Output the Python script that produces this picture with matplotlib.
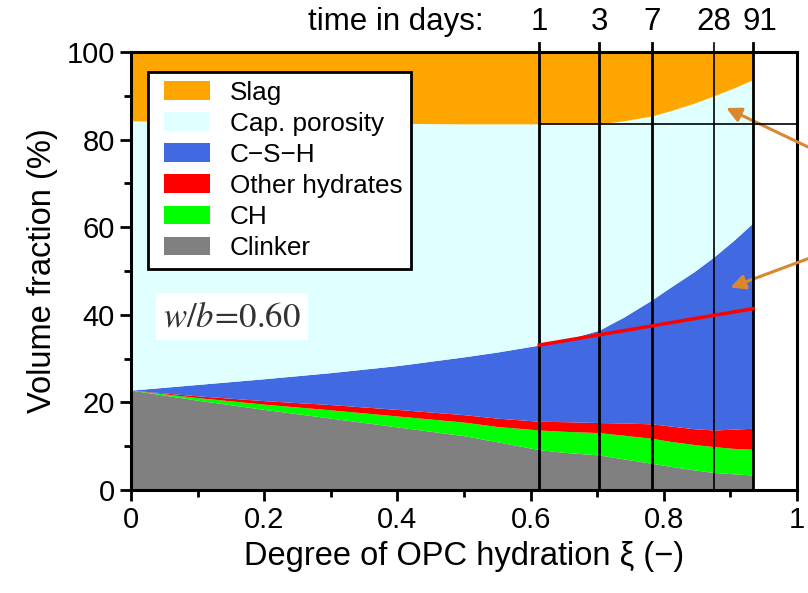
import matplotlib
matplotlib.use("Agg")
import matplotlib.pyplot as plt
import matplotlib.transforms as mtransforms
from matplotlib.patches import Rectangle, Patch
from matplotlib.legend_handler import HandlerPatch

plt.rcParams['font.family'] = ['Liberation Sans', 'DejaVu Sans']
plt.rcParams['mathtext.fontset'] = 'stix'

# Degree of OPC hydration (xi) sampling points
xi = [0.0, 0.1, 0.2, 0.3, 0.4, 0.5, 0.55, 0.613, 0.65, 0.703, 0.74, 0.782,
      0.81, 0.845, 0.875, 0.905, 0.934]

# Cumulative phase boundaries (volume %), from the bottom of the stack upward
clinker_top = [22.8, 20.5, 18.4, 16.4, 14.4, 12.4, 11.0, 9.2, 8.6, 8.0, 7.1, 6.1,
               5.4, 4.6, 4.0, 3.7, 3.4]
ch_top = [22.8, 21.1, 19.6, 18.3, 16.9, 15.5, 14.5, 13.7, 13.4, 13.1, 12.5, 11.8,
          11.1, 10.4, 9.9, 9.5, 9.3]
other_top = [22.8, 21.5, 20.4, 19.5, 18.4, 17.2, 16.4, 15.7, 15.6, 15.4, 15.3, 15.1,
             14.6, 14.0, 13.7, 13.9, 14.1]
csh_top = [22.8, 24.1, 25.4, 26.8, 28.4, 30.4, 31.5, 33.1, 34.2, 36.5, 39.5, 43.4,
           46.3, 49.8, 53.2, 57.0, 61.0]
porosity_top = [84.3, 84.1, 83.9, 83.8, 83.7, 83.6, 83.6, 83.6, 83.6, 83.6, 84.3, 85.4,
                86.6, 88.3, 90.0, 91.8, 93.7]
slag_top = [100.0] * len(xi)

labels = ["Clinker", "CH", "Other hydrates", "C\u2212S\u2212H", "Cap. porosity", "Slag"]
colors = ["#808080", "#00FF00", "#FF0000", "#4169E1", "#E0FFFF", "#FFA500"]

# Curing ages and the corresponding degree of hydration
days = ["1", "3", "7", "28", "91"]
day_xi = [0.613, 0.703, 0.782, 0.875, 0.934]
day_lw = [2.0, 2.0, 2.0, 1.2, 2.0]

# Reference line on the C-S-H region
ref_xi = [0.613, 0.934]
ref_val = [33.1, 41.4]

# Initial slag level marker
slag_level = 83.6

fig = plt.figure(figsize=(8.08, 5.93), dpi=100)
ax = fig.add_axes([0.1621, 0.1737, 0.8243, 0.7386])

bounds = [[0.0] * len(xi), clinker_top, ch_top, other_top, csh_top, porosity_top, slag_top]
for lo, hi, c in zip(bounds[:-1], bounds[1:], colors):
    ax.fill_between(xi, lo, hi, color=c, linewidth=0)

ax.set_xlim(0, 1)
ax.set_ylim(0, 100)
ax.set_xticks([0, 0.2, 0.4, 0.6, 0.8, 1.0])
ax.set_xticklabels(["0", "0.2", "0.4", "0.6", "0.8", "1"])
ax.set_xticks([0.1, 0.3, 0.5, 0.7, 0.9], minor=True)
ax.set_yticks([0, 20, 40, 60, 80, 100])
ax.set_yticks([10, 30, 50, 70, 90], minor=True)
ax.tick_params(axis='both', which='major', labelsize=21, length=8, width=2, direction='out')
ax.tick_params(axis='both', which='minor', length=5, width=2, direction='out')
for s in ax.spines.values():
    s.set_linewidth(2.2)

ax.set_xlabel("Degree of OPC hydration \u03be (\u2212)", fontsize=23.5, labelpad=5)
ax.set_ylabel("Volume fraction (%)", fontsize=23.5, labelpad=6)

# Day markers
for x, lw in zip(day_xi, day_lw):
    ax.plot([x, x], [0, 102], color='black', lw=lw, clip_on=False, zorder=5)

ax.plot([day_xi[0], 1.0], [slag_level, slag_level], color='black', lw=1.2, zorder=5)
ax.plot(ref_xi, ref_val, color='#FF0000', lw=2.5, zorder=6)

trans = mtransforms.blended_transform_factory(ax.transData, ax.transAxes)
ax.text(0.530, 1.068, "time in days:", transform=trans, ha='right', va='center', fontsize=22.5)
for x, d in zip(day_xi, days):
    dx = 0.010 if d == "91" else 0.0
    ax.text(x + dx, 1.068, d, transform=trans, ha='center', va='center', fontsize=22.5)


def inset_box(legend, orig_handle, xdescent, ydescent, width, height, fontsize):
    off = 0.3 * fontsize
    return Rectangle((off - xdescent, -ydescent), width - off, height)


handles = [Patch(facecolor=c, edgecolor='none') for c in colors][::-1]
leg = ax.legend(handles, labels[::-1], loc='upper left', bbox_to_anchor=(0.0255, 0.954),
                borderaxespad=0, fontsize=18.8, fancybox=False, framealpha=1,
                edgecolor='black', handlelength=2.05, handleheight=0.72,
                handletextpad=0.75, labelspacing=0.27, borderpad=0.33,
                handler_map={Patch: HandlerPatch(patch_func=inset_box)})
leg.get_frame().set_linewidth(2)
leg.set_zorder(10)

ax.text(0.152, 39.6, r"$w/b\!=\!0.60$", fontsize=25, ha='center', va='center',
        color='#333333', zorder=10,
        bbox=dict(facecolor='white', edgecolor='none', pad=5))

arrow_color = '#D9882F'
ax.annotate("", xy=(0.890, 87.5), xytext=(1.08, 73.7), annotation_clip=False,
            arrowprops=dict(arrowstyle='-|>', color=arrow_color, lw=2.2, mutation_scale=22))
ax.annotate("", xy=(0.896, 46.0), xytext=(1.08, 56.4), annotation_clip=False,
            arrowprops=dict(arrowstyle='-|>', color=arrow_color, lw=2.2, mutation_scale=22))

fig.savefig("out.png", dpi=100)
